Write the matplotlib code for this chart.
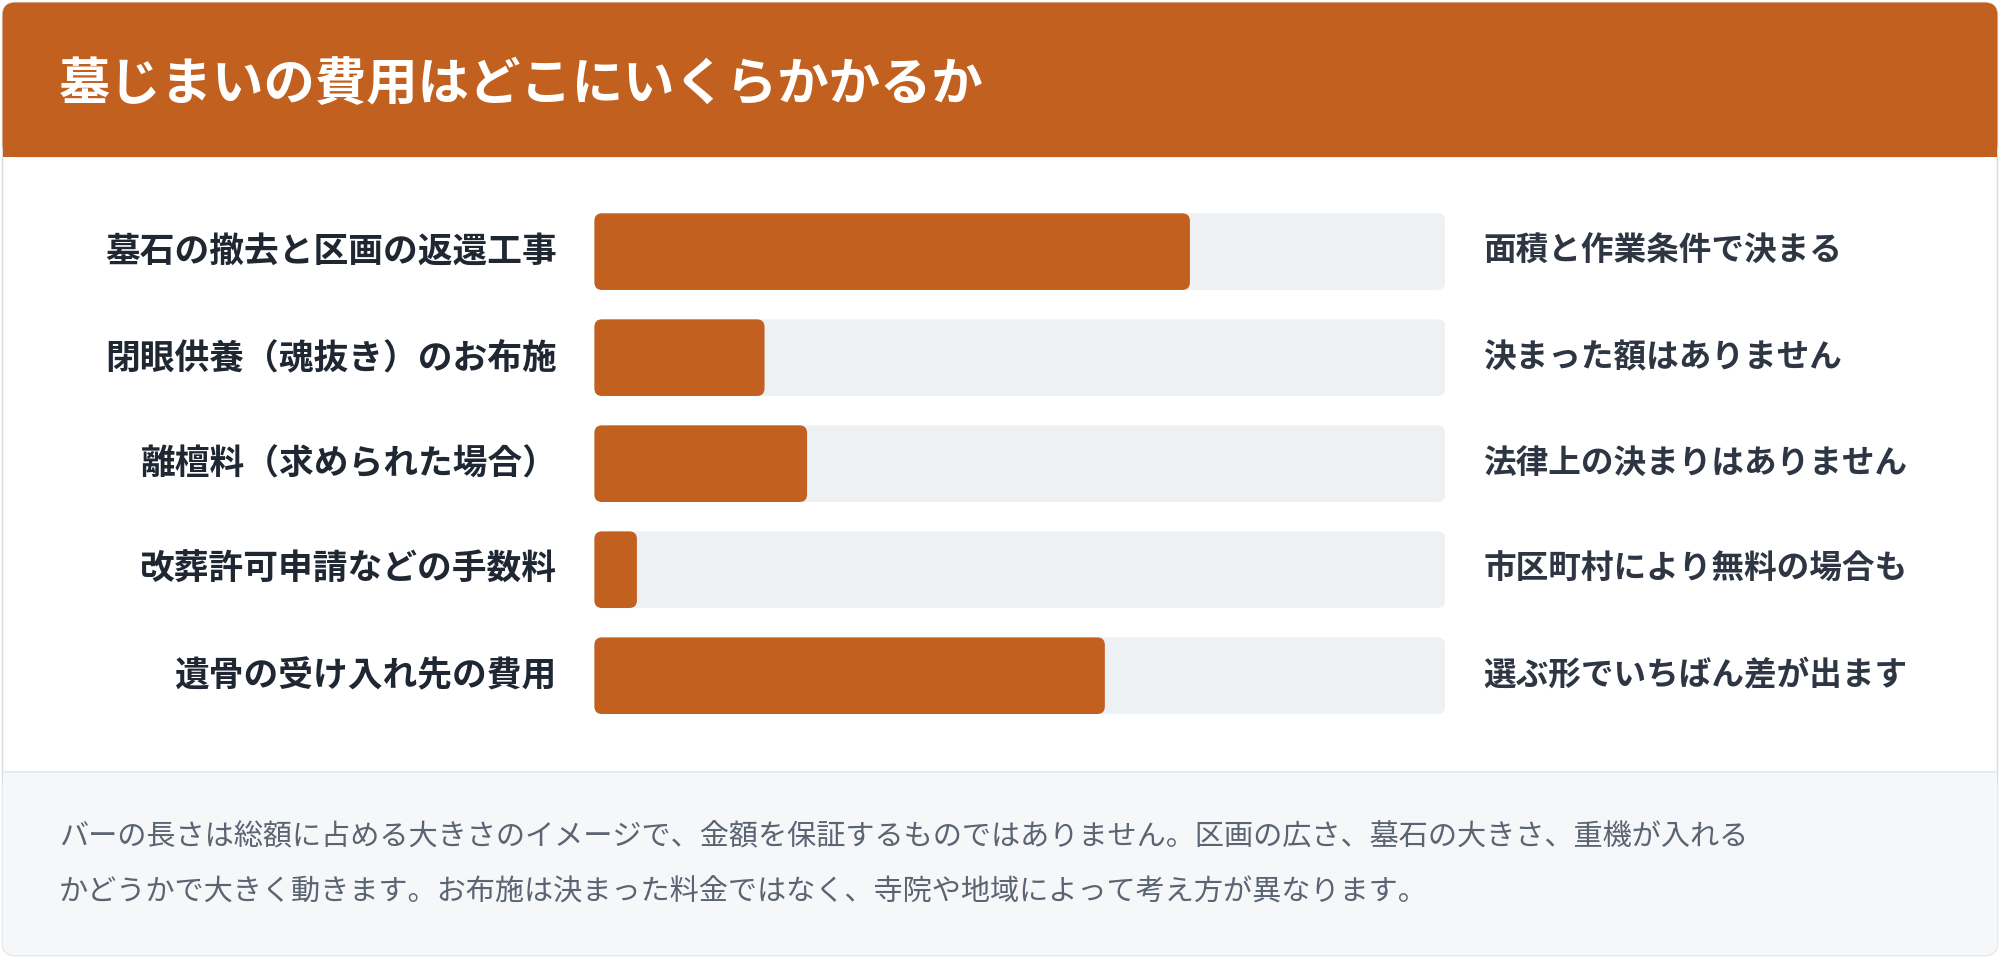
import matplotlib
matplotlib.use("Agg")
import matplotlib.pyplot as plt
from matplotlib.patches import FancyBboxPatch, Rectangle

plt.rcParams['font.family'] = ['Noto Sans CJK JP', 'DejaVu Sans']

TITLE = "墓じまいの費用はどこにいくらかかるか"
items = ["墓石の撤去と区画の返還工事", "閉眼供養（魂抜き）のお布施", "離檀料（求められた場合）",
         "改葬許可申請などの手数料", "遺骨の受け入れ先の費用"]
shares = [0.70, 0.20, 0.25, 0.05, 0.60]
notes = ["面積と作業条件で決まる", "決まった額はありません", "法律上の決まりはありません",
         "市区町村により無料の場合も", "選ぶ形でいちばん差が出ます"]
footer = ["バーの長さは総額に占める大きさのイメージで、金額を保証するものではありません。区画の広さ、墓石の大きさ、重機が入れる",
          "かどうかで大きく動きます。お布施は決まった料金ではなく、寺院や地域によって考え方が異なります。"]

ORANGE = "#C2611F"
TRACK = "#EEF1F4"
W, H = 1568, 750  # layout units (reference pixels)

fig = plt.figure(figsize=(20, 9.58), dpi=100)
bg = fig.add_axes([0, 0, 1, 1])
bg.set_xlim(0, W)
bg.set_ylim(H, 0)
bg.axis("off")

# card + header + footer
bg.add_patch(FancyBboxPatch((2, 2), W - 4, H - 4, boxstyle="round,pad=0,rounding_size=10",
                            fc="white", ec="#D9DDE2", lw=1.2))
bg.add_patch(FancyBboxPatch((2, 2), W - 4, 121, boxstyle="round,pad=0,rounding_size=10",
                            fc=ORANGE, ec="none"))
bg.add_patch(Rectangle((2, 100), W - 4, 23, fc=ORANGE, ec="none"))
bg.add_patch(FancyBboxPatch((2, 604), W - 4, 144, boxstyle="round,pad=0,rounding_size=10",
                            fc="#F6F7F9", ec="none"))
bg.add_patch(Rectangle((2, 604), W - 4, 40, fc="#F6F7F9", ec="none"))
bg.plot([2, W - 2], [604, 604], color="#E2E6EA", lw=1.2)

bg.text(46, 66, TITLE, color="white", fontsize=37, fontweight="bold", va="center")

row_y = [197, 280, 363, 446, 529]
for y, lab, note in zip(row_y, items, notes):
    bg.text(437, y, lab, ha="right", va="center", fontsize=25, fontweight="bold", color="#1F2733")
    bg.text(1163, y, note, ha="left", va="center", fontsize=23.5, fontweight="bold", color="#2D3642")

for i, line in enumerate(footer):
    bg.text(46, 656 + i * 43, line, ha="left", va="center", fontsize=21, color="#5A6472")

# bar axes spanning the track area
x0, x1 = 466, 1133
top, bot = row_y[0] - 41.5, row_y[-1] + 41.5
bar_ax = fig.add_axes([x0 / W, 1 - bot / H, (x1 - x0) / W, (bot - top) / H])
bar_ax.set_xlim(0, 1)
bar_ax.set_ylim(len(items) - 0.5, -0.5)
bar_ax.axis("off")

bh = 60 / 83
aspect = (1 / 667) / (1 / 83) ** -1 if False else (83 ** -1) / (667 ** -1)
for i, s in enumerate(shares):
    bar_ax.add_patch(FancyBboxPatch((0, i - bh / 2), 1, bh,
                                    boxstyle="round,pad=0,rounding_size=0.009",
                                    mutation_aspect=aspect, fc=TRACK, ec="none"))
    bar_ax.add_patch(FancyBboxPatch((0, i - bh / 2), s, bh,
                                    boxstyle="round,pad=0,rounding_size=0.009",
                                    mutation_aspect=aspect, fc=ORANGE, ec="none"))

fig.savefig("out.png", dpi=100)
